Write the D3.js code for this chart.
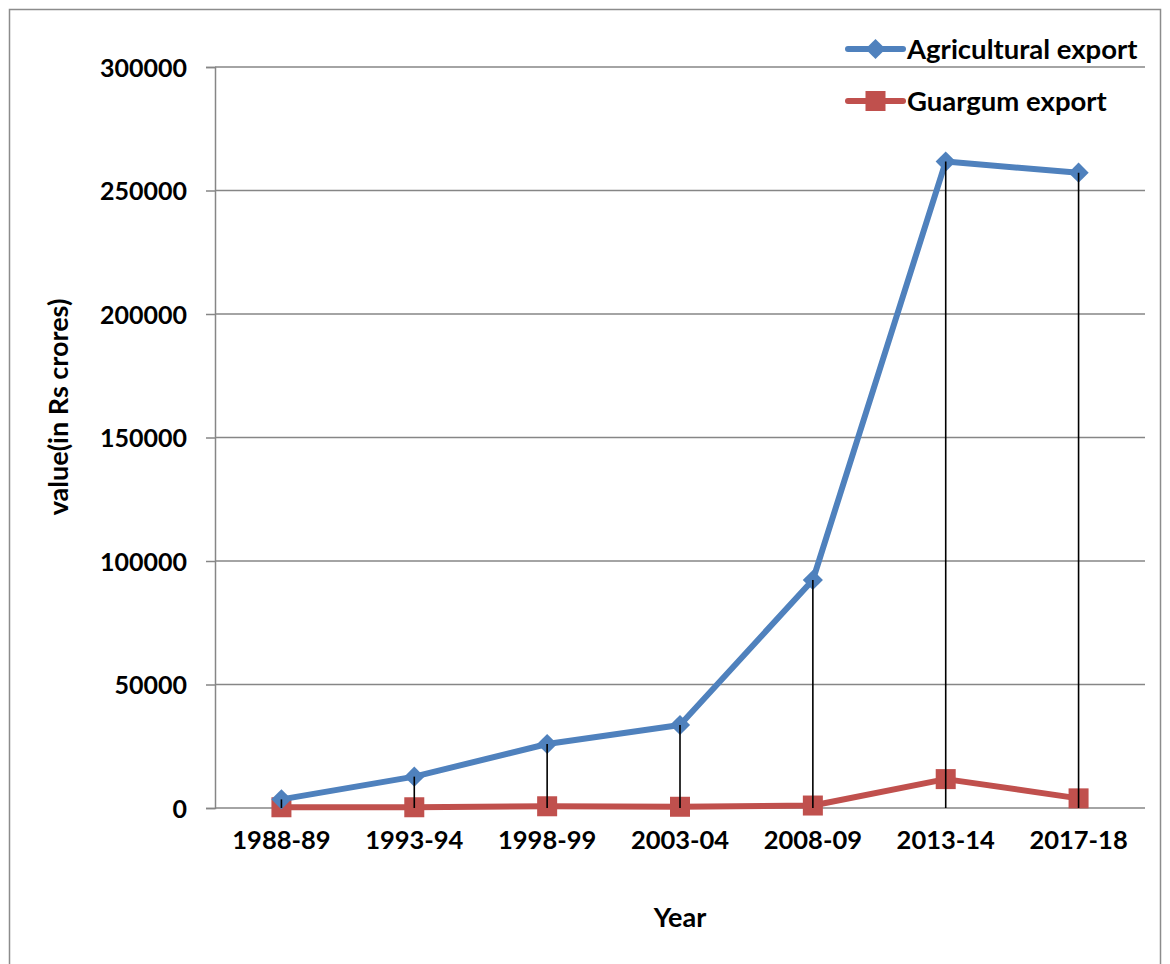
<!DOCTYPE html>
<html>
<head>
<meta charset="utf-8">
<script src="https://cdn.jsdelivr.net/npm/d3@7"></script>
<style>
  html, body { margin: 0; padding: 0; background: #fff; }
  svg text { font-family: Lato, "Open Sans", sans-serif; font-weight: bold; fill: #000; }
</style>
</head>
<body>
<svg id="chart" width="1170" height="964"></svg>
<script>
// Export values, Rs crores
const years = ["1988-89", "1993-94", "1998-99", "2003-04", "2008-09", "2013-14", "2017-18"];
const agriculturalExport = [3500, 12700, 25900, 33600, 92300, 261700, 257200];
const guargumExport = [300, 300, 700, 500, 1000, 11700, 3900];
const yTicks = [0, 50000, 100000, 150000, 200000, 250000, 300000];
const seriesNames = ["Agricultural export", "Guargum export"];
const seriesColors = ["#4F81BD", "#C0504D"];

const svg = d3.select("#chart");

// outer chart frame
svg.append("rect")
  .attr("x", 9.5).attr("y", 9.5)
  .attr("width", 1151).attr("height", 1000)
  .attr("fill", "none").attr("stroke", "#8c8c8c").attr("stroke-width", 1.5);

const plot = { left: 215, right: 1145, top: 67, bottom: 808 };

const x = d3.scaleBand().domain(years).range([plot.left, plot.right]);
const y = d3.scaleLinear().domain([0, 300000]).range([plot.bottom, plot.top]);
const cx = d => x(d) + x.bandwidth() / 2;

// horizontal gridlines + y axis
const yAxis = d3.axisLeft(y).tickValues(yTicks).tickSize(9).tickPadding(19).tickFormat(d3.format("d"));
const gy = svg.append("g").attr("transform", `translate(${plot.left},0)`).call(yAxis);
gy.select(".domain").attr("stroke", "#868686").attr("stroke-width", 1.5);
gy.selectAll(".tick line").attr("stroke", "#868686").attr("stroke-width", 1.5);
gy.selectAll(".tick text").style("font-size", "25px").attr("dy", "0.36em");

svg.append("g").selectAll("line").data(yTicks).join("line")
  .attr("x1", plot.left).attr("x2", plot.right)
  .attr("y1", d => y(d)).attr("y2", d => y(d))
  .attr("stroke", "#868686").attr("stroke-width", 1.5);

// category labels
const xAxis = d3.axisBottom(x).tickSize(0).tickPadding(41);
const gx = svg.append("g").attr("transform", `translate(0,${plot.bottom})`).call(xAxis);
gx.select(".domain").remove();
gx.selectAll(".tick text").style("font-size", "25.5px").attr("dy", "0");

// axis titles
svg.append("text").attr("x", 680).attr("y", 927).attr("text-anchor", "middle")
  .style("font-size", "27px").text("Year");
svg.append("text")
  .attr("transform", "translate(68,407) rotate(-90)")
  .attr("text-anchor", "middle").style("font-size", "27px")
  .text("value(in Rs crores)");

const line = d3.line().x((d, i) => cx(years[i])).y(d => y(d));
const diamond = d3.symbol().type(d3.symbolDiamond2).size(260);

// Guargum series
svg.append("path").datum(guargumExport).attr("d", line)
  .attr("fill", "none").attr("stroke", seriesColors[1]).attr("stroke-width", 6)
  .attr("stroke-linejoin", "round");
svg.append("g").selectAll("rect").data(guargumExport).join("rect")
  .attr("x", (d, i) => cx(years[i]) - 10).attr("y", d => y(d) - 10)
  .attr("width", 20).attr("height", 20).attr("fill", seriesColors[1]);

// Agricultural series
svg.append("path").datum(agriculturalExport).attr("d", line)
  .attr("fill", "none").attr("stroke", seriesColors[0]).attr("stroke-width", 6)
  .attr("stroke-linejoin", "round");
svg.append("g").selectAll("path").data(agriculturalExport).join("path")
  .attr("transform", (d, i) => `translate(${cx(years[i])},${y(d)})`)
  .attr("d", diamond).attr("fill", seriesColors[0]);

// drop lines from the upper series down to the axis
svg.append("g").selectAll("line").data(agriculturalExport).join("line")
  .attr("x1", (d, i) => cx(years[i])).attr("x2", (d, i) => cx(years[i]))
  .attr("y1", d => y(d)).attr("y2", y(0))
  .attr("stroke", "#000").attr("stroke-width", 1.6);

// legend
const legend = svg.append("g").selectAll("g").data(seriesNames).join("g")
  .attr("transform", (d, i) => `translate(848,${49 + i * 52})`);
legend.append("line").attr("x1", 0).attr("x2", 55).attr("y1", 0).attr("y2", 0)
  .attr("stroke", (d, i) => seriesColors[i]).attr("stroke-width", 6).attr("stroke-linecap", "round");
legend.each(function (d, i) {
  const g = d3.select(this);
  if (i === 0) {
    g.append("path").attr("transform", "translate(27.5,0)").attr("d", diamond).attr("fill", seriesColors[0]);
  } else {
    g.append("rect").attr("x", 17.5).attr("y", -10).attr("width", 20).attr("height", 20).attr("fill", seriesColors[1]);
  }
});
legend.append("text").attr("x", 59).attr("y", 0).attr("dy", "0.36em")
  .style("font-size", "27.5px").text(d => d);
</script>
</body>
</html>
